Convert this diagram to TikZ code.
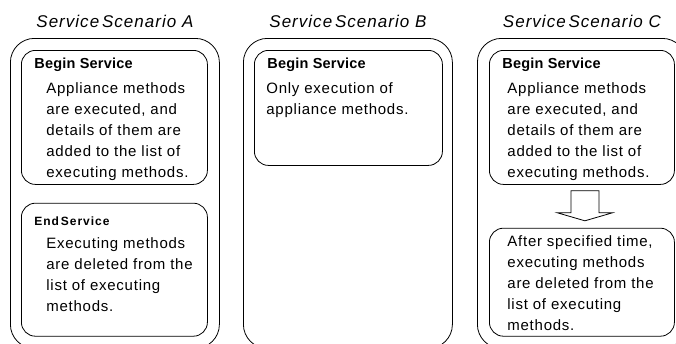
\documentclass[tikz,border=0pt]{standalone}
\usepackage{fontspec}
\setmainfont{Liberation Sans}
\newfontfamily\titlefont[LetterSpace=6]{Liberation Sans}
\newfontfamily\headfont[LetterSpace=1.5]{Liberation Sans}
\newfontfamily\smallheadfont[LetterSpace=8]{Liberation Sans}
\newfontfamily\bodyfont[LetterSpace=5]{Liberation Sans}
\usetikzlibrary{positioning,calc}

\begin{document}
\begin{tikzpicture}[
  x=1pt, y=-1pt,
  line width=0.8pt,
  scen/.style  = {draw, rounded corners=24pt, inner sep=0pt, anchor=north west,
                  minimum width=209pt, minimum height=310pt},
  stage/.style = {draw, rounded corners=14pt, inner sep=0pt, minimum width=186pt},
  title/.style = {font=\titlefont\itshape\fontsize{17}{20}\selectfont,
                  anchor=base, inner sep=0pt},
  head/.style  = {font=\headfont\bfseries\fontsize{14.5}{17}\selectfont,
                  anchor=base west, inner sep=0pt},
  % multi-line text: the base anchor sits on the last line, 21pt per line
  body/.style  = {font=\bodyfont\fontsize{15}{21}\selectfont, align=left,
                  anchor=base west, inner sep=0pt},
]
\useasboundingbox (0,0) rectangle (676,343);
\clip (0,0) rectangle (676,343);

% --- the three scenarios ------------------------------------------------------------------------
\node[scen] (scA) at (10,38)  {};
\node[scen] (scB) at (243,38) {};
\node[scen] (scC) at (477,38) {};

\node[title] (tA) at ($(scA.north)+(0,-11)$) {Service\,Scenario A};
\node[title] (tB) at ($(scB.north)+(0,-11)$) {Service\,Scenario B};
\node[title] (tC) at ($(scC.north)+(0,-11)$) {Service\,Scenario C};

% --- scenario A: begin and end ------------------------------------------------------------------
\node[stage, minimum height=134pt, below right=12pt and 11pt of scA.north west] (a1) {};
\node[stage, minimum height=133pt, below=18pt of a1] (a2) {};

\node[head] (a1h) at ($(a1.north west)+(13,18)$) {Begin Service};
\node[body] (a1t) at ($(a1.north west)+(25,127)$)
  {Appliance methods\\are executed, and\\details of them are\\added to the list of\\executing methods.};

\node[head, font=\smallheadfont\bfseries\fontsize{12}{14}\selectfont]
  (a2h) at ($(a2.north west)+(13,23)$) {End\,Service};
\node[body] (a2t) at ($(a2.north west)+(25,109)$)
  {Executing methods\\are deleted from the\\list of executing\\methods.};

% --- scenario B: begin only ---------------------------------------------------------------------
\node[stage, minimum width=188pt, minimum height=115pt,
      below right=12pt and 11pt of scB.north west] (b1) {};

\node[head] (b1h) at ($(b1.north west)+(13,18)$) {Begin Service};
\node[body] (b1t) at ($(b1.north west)+(12,64)$) {Only execution of\\appliance methods.};

% --- scenario C: begin, then a timed removal ----------------------------------------------------
\node[stage, minimum width=185pt, minimum height=134pt,
      below right=12pt and 12pt of scC.north west] (c1) {};
\node[stage, minimum width=185pt, minimum height=108pt, below=43pt of c1] (c2) {};

\node[head] (c1h) at ($(c1.north west)+(13,18)$) {Begin Service};
\node[body] (c1t) at ($(c1.north west)+(18,127)$)
  {Appliance methods\\are executed, and\\details of them are\\added to the list of\\executing methods.};
\node[body] (c2t) at ($(c2.north west)+(18,103)$)
  {After specified time,\\executing methods\\are deleted from the\\list of executing\\methods.};

% block arrow from c1 down to c2
\coordinate (down) at ($(c1.south)+(3,6)$);
\draw (down) ++(-14,0) -- ++(28,0) -- ++(0,22) -- ++(13.5,0)
  -- ++(-27.5,8) -- ++(-27.5,-8) -- ++(13.5,0) -- cycle;

\end{tikzpicture}
\end{document}
